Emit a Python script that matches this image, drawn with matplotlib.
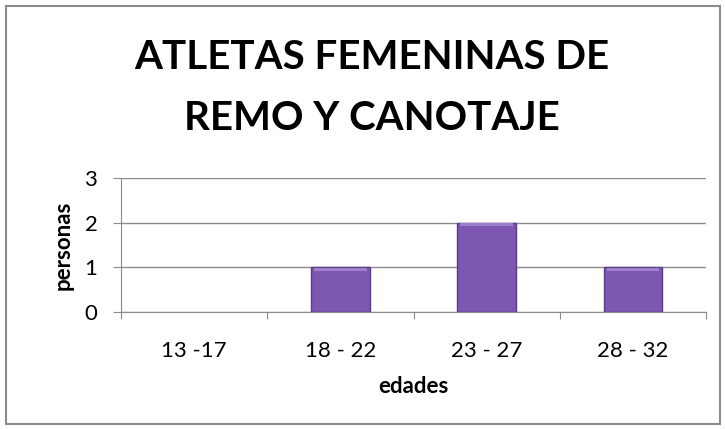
import matplotlib.pyplot as plt
from matplotlib.patches import Rectangle

categorias = ['13 -17', '18 - 22', '23 - 27', '28 - 32']
personas = [0, 1, 2, 1]

plt.rcParams['font.family'] = ['Lato', 'DejaVu Sans']

fig = plt.figure(figsize=(7.25, 4.29), dpi=100)
fig.patches.append(Rectangle((0.008, 0.012), 0.985, 0.975, transform=fig.transFigure,
                             fill=False, edgecolor='#8c8c8c', linewidth=1.5))

ax = fig.add_axes([121 / 725, 1 - 312 / 429, 585 / 725, 134 / 429])
pos = list(range(len(categorias)))
bordes = ['#5a3d85' if v > 0 else 'none' for v in personas]
bars = ax.bar(pos, personas, width=0.4, color='#7d57b2', edgecolor=bordes, linewidth=1, zorder=3)
# light bevel on top of each bar
for b in bars:
    h = b.get_height()
    if h > 0:
        ax.bar(b.get_x() + b.get_width() / 2, 0.07, width=b.get_width() * 0.9,
               bottom=h - 0.08, color='#9d80cc', linewidth=0, zorder=4)

ax.set_xlim(-0.5, 3.5)
ax.set_ylim(0, 3)
ax.set_yticks([0, 1, 2, 3])
ax.set_xticks([p - 0.5 for p in pos] + [3.5])
ax.set_xticklabels([])
ax.set_xticks(pos, minor=True)
ax.set_xticklabels(categorias, minor=True)
ax.tick_params(axis='x', which='minor', length=0, pad=21, labelsize=16)
ax.tick_params(axis='x', which='major', length=5, color='#8c8c8c', direction='out')
ax.tick_params(axis='y', length=6, color='#8c8c8c', labelsize=16, pad=11)
ax.grid(axis='y', color='#8c8c8c', linewidth=1, zorder=0)
for s in ['top', 'right']:
    ax.spines[s].set_visible(False)
for s in ['left', 'bottom']:
    ax.spines[s].set_color('#8c8c8c')

ax.set_ylabel('personas', fontsize=16, fontweight='bold', labelpad=8)
ax.set_xlabel('edades', fontsize=16, fontweight='bold', labelpad=11)

fig.text(0.513, 0.795, 'ATLETAS FEMENINAS DE\nREMO Y CANOTAJE', ha='center', va='center',
         fontsize=29, fontweight='bold', linespacing=1.8)

fig.savefig('out.png', dpi=100)
